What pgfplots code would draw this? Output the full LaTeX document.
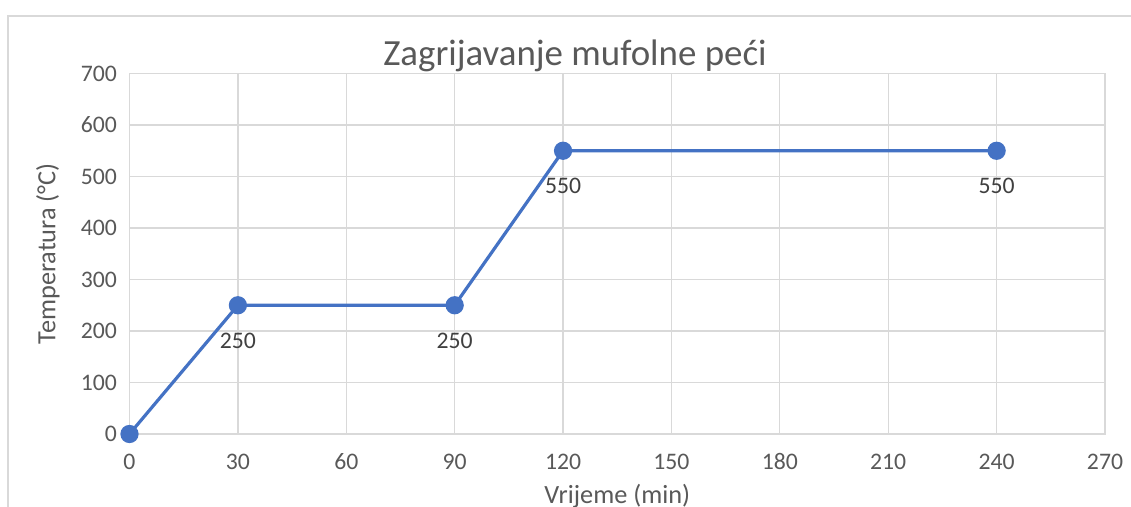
\documentclass[border=0pt]{standalone}
\usepackage{pgfplots}
\pgfplotsset{compat=1.18}
\usepackage{fontspec}
\setmainfont{Carlito}
\definecolor{ser}{HTML}{4472C4}
\definecolor{gridc}{HTML}{D9D9D9}
\definecolor{txt}{HTML}{595959}
\definecolor{lab}{HTML}{404040}
\pgfplotstableread{
x y lab
0 0 {}
30 250 250
90 250 250
120 550 550
240 550 550
}\datatab
\begin{document}
\begin{tikzpicture}
\useasboundingbox (0,0) rectangle (1131bp,-507bp);
\begin{scope}
\clip (0,0) rectangle (1131bp,-507bp);
\fill[white] (0,0) rectangle (1131bp,-507bp);
\draw[gridc, line width=1.3bp] (8bp,-16bp) rectangle (1145bp,-530bp);
\begin{axis}[
  at={(129.5bp,-434bp)}, anchor=south west,
  scale only axis, width=975.5bp, height=360.5bp,
  xmin=0, xmax=270, ymin=0, ymax=700,
  xtick={0,30,...,270}, ytick={0,100,...,700},
  grid=major,
  major grid style={gridc, line width=1.3bp},
  axis line style={gridc, line width=1.3bp},
  tick style={draw=none},
  clip=false,
  /pgf/number format/assume math mode=true,
  ticklabel style={font=\fontsize{23.7bp}{28bp}\selectfont, text=txt},
  xticklabel style={anchor=base, inner sep=0pt, yshift=-35bp},
  yticklabel style={anchor=east, inner sep=0pt, xshift=-12.5bp},
  xlabel={Vrijeme (min)},
  xlabel style={font=\fontsize{26.3bp}{30bp}\selectfont, text=txt,
    at={(axis description cs:0.5,0)}, anchor=base, yshift=-69bp},
  ylabel={Temperatura (°C)},
  ylabel style={font=\fontsize{26.3bp}{30bp}\selectfont, text=txt,
    at={(axis description cs:0,0.5)}, anchor=center, yshift=81.5bp},
  title={Zagrijavanje mufolne peći},
  title style={font=\fontsize{36.9bp}{42bp}\selectfont, text=txt,
    at={(axis description cs:0.4567,1)}, anchor=base, yshift=2.5bp},
]
\addplot[ser, line width=3.2bp, mark=*, mark size=7.5bp,
  mark options={solid, fill=ser, draw=none},
  nodes near coords, point meta=explicit symbolic,
  every node near coord/.append style={anchor=base, inner sep=0pt, yshift=-43bp,
    font=\fontsize{23.7bp}{28bp}\selectfont, text=lab}]
  table[x=x, y=y, meta=lab] {\datatab};
\end{axis}
\end{scope}
\end{tikzpicture}
\end{document}
